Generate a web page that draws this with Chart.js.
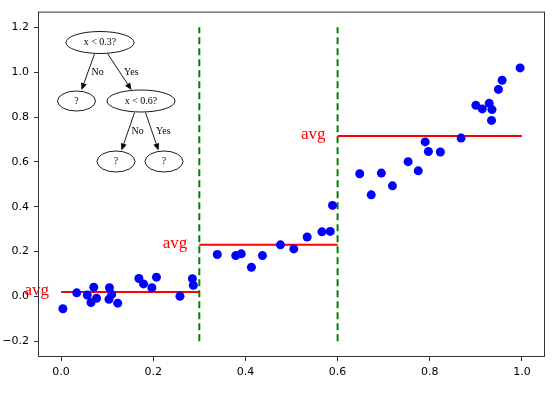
<!DOCTYPE html>
<html>
<head>
<meta charset="utf-8">
<script src="https://cdn.jsdelivr.net/npm/chart.js@4/dist/chart.umd.min.js"></script>
<style>
  body { margin: 0; background: #fff; }
</style>
</head>
<body>
<canvas id="chart" width="555" height="393"></canvas>
<script>
// points, one group per region
const seg1X = [0.004, 0.034, 0.057, 0.071, 0.077, 0.065, 0.105, 0.110, 0.104, 0.123, 0.169, 0.179, 0.197, 0.207, 0.258, 0.285, 0.287];
const seg1Y = [-0.055, 0.016, 0.006, 0.041, -0.008, -0.027, 0.039, 0.009, -0.013, -0.030, 0.080, 0.056, 0.039, 0.086, 0.001, 0.079, 0.050];
const seg2X = [0.339, 0.379, 0.391, 0.413, 0.437, 0.476, 0.505, 0.534, 0.566, 0.584, 0.589];
const seg2Y = [0.187, 0.182, 0.190, 0.130, 0.182, 0.230, 0.212, 0.265, 0.288, 0.290, 0.406];
const seg3X = [0.648, 0.673, 0.695, 0.719, 0.753, 0.775, 0.790, 0.797, 0.823, 0.868, 0.900, 0.914, 0.929, 0.935, 0.934, 0.949, 0.957, 0.996];
const seg3Y = [0.547, 0.453, 0.550, 0.493, 0.601, 0.560, 0.689, 0.646, 0.644, 0.706, 0.852, 0.836, 0.861, 0.833, 0.785, 0.923, 0.964, 1.019];

// averages per region
const segStart = [0.0, 0.3, 0.6];
const segEnd = [0.3, 0.6, 1.0];
const segAvg = [0.02, 0.23, 0.715];

// split lines
const splitX = [0.3, 0.6];
const splitY = [-0.2, 1.2];

const xTicks = [0.0, 0.2, 0.4, 0.6, 0.8, 1.0];
const yTicks = [-0.2, 0.0, 0.2, 0.4, 0.6, 0.8, 1.0, 1.2];

const toPts = (xs, ys) => xs.map((x, i) => ({ x: x, y: ys[i] }));
const allPts = toPts(seg1X, seg1Y).concat(toPts(seg2X, seg2Y), toPts(seg3X, seg3Y));

const datasets = [{
    label: 'data',
    data: allPts,
    pointRadius: 4.5,
    pointHoverRadius: 4.5,
    backgroundColor: '#0000ff',
    borderWidth: 0
}];
segAvg.forEach((a, i) => {
    datasets.push({
        label: 'avg' + i,
        data: [{ x: segStart[i], y: a }, { x: segEnd[i], y: a }],
        showLine: true,
        pointRadius: 0,
        borderColor: '#ff0000',
        borderWidth: 2
    });
});
splitX.forEach((s, i) => {
    datasets.push({
        label: 'split' + i,
        data: [{ x: s, y: splitY[0] }, { x: s, y: splitY[1] }],
        showLine: true,
        pointRadius: 0,
        borderColor: '#008000',
        borderWidth: 2,
        borderDash: [7, 4]
    });
});

const fmt = v => v.toFixed(1).replace('-', '\u2212');

// "avg" labels left of each red line
const avgLabels = {
    id: 'avgLabels',
    afterDatasetsDraw(chart) {
        const ctx = chart.ctx, xs = chart.scales.x, ys = chart.scales.y;
        ctx.save();
        ctx.fillStyle = '#ff0000';
        ctx.font = '17px "Liberation Serif", serif';
        ctx.textAlign = 'right';
        ctx.textBaseline = 'alphabetic';
        segAvg.forEach((a, i) => {
            ctx.fillText('avg', xs.getPixelForValue(segStart[i]) - 12, ys.getPixelForValue(a) + 3);
        });
        ctx.restore();
    }
};

// frame + decision tree inset
const frameAndTree = {
    id: 'frameAndTree',
    afterDraw(chart) {
        const ctx = chart.ctx, a = chart.chartArea;
        ctx.save();
        ctx.strokeStyle = '#333';
        ctx.lineWidth = 1;
        ctx.strokeRect(a.left + 0.5, a.top + 0.5, a.right - a.left - 1, a.bottom - a.top - 1);

        const nodes = [
            { x: 100, y: 42.5, rx: 34, ry: 11, t: 'x < 0.3?' },
            { x: 76.5, y: 101, rx: 19, ry: 10, t: '?' },
            { x: 141, y: 101, rx: 34, ry: 11, t: 'x < 0.6?' },
            { x: 116, y: 161.5, rx: 19, ry: 10.5, t: '?' },
            { x: 164, y: 161.5, rx: 19, ry: 10.5, t: '?' }
        ];
        const edges = [
            { x1: 94.5, y1: 54, x2: 81.5, y2: 90, t: 'No', tx: 91.5, ty: 72 },
            { x1: 107.5, y1: 53.5, x2: 131.5, y2: 90, t: 'Yes', tx: 124, ty: 72 },
            { x1: 134.5, y1: 112.5, x2: 121.5, y2: 150.5, t: 'No', tx: 131.5, ty: 131 },
            { x1: 145.5, y1: 112.5, x2: 158.5, y2: 150.5, t: 'Yes', tx: 156, ty: 131 }
        ];
        ctx.strokeStyle = '#000';
        ctx.fillStyle = '#000';
        ctx.lineWidth = 0.9;
        ctx.font = '10px "Liberation Serif", serif';
        ctx.textBaseline = 'middle';
        nodes.forEach(n => {
            ctx.beginPath();
            ctx.ellipse(n.x, n.y, n.rx, n.ry, 0, 0, Math.PI * 2);
            ctx.stroke();
            ctx.textAlign = 'center';
            ctx.fillText(n.t, n.x, n.y);
        });
        edges.forEach(e => {
            const ang = Math.atan2(e.y2 - e.y1, e.x2 - e.x1);
            const hl = 7, hw = 3;
            const bx = e.x2 - hl * Math.cos(ang), by = e.y2 - hl * Math.sin(ang);
            ctx.beginPath();
            ctx.moveTo(e.x1, e.y1);
            ctx.lineTo(bx, by);
            ctx.stroke();
            ctx.beginPath();
            ctx.moveTo(e.x2, e.y2);
            ctx.lineTo(bx + hw * Math.sin(ang), by - hw * Math.cos(ang));
            ctx.lineTo(bx - hw * Math.sin(ang), by + hw * Math.cos(ang));
            ctx.closePath();
            ctx.fill();
            ctx.textAlign = 'left';
            ctx.fillText(e.t, e.tx, e.ty);
        });
        ctx.restore();
    }
};

Chart.defaults.font.family = '"DejaVu Sans", sans-serif';
Chart.defaults.color = '#000';

new Chart(document.getElementById('chart'), {
    type: 'scatter',
    data: { datasets: datasets },
    options: {
        responsive: false,
        animation: false,
        events: [],
        layout: { padding: { top: 10, right: 10, left: 0, bottom: 0 } },
        plugins: { legend: { display: false }, tooltip: { enabled: false } },
        scales: {
            x: {
                min: -0.05, max: 1.05,
                afterBuildTicks: s => { s.ticks = xTicks.map(v => ({ value: v })); },
                afterFit: s => { s.height = 36; },
                ticks: { callback: v => fmt(v), font: { size: 11 }, padding: 5, maxRotation: 0 },
                grid: { drawOnChartArea: false, drawTicks: true, tickLength: 4, tickColor: '#333' },
                border: { display: false }
            },
            y: {
                min: -0.27, max: 1.27,
                afterBuildTicks: s => { s.ticks = yTicks.map(v => ({ value: v })); },
                afterFit: s => { s.width = 38; },
                ticks: { callback: v => fmt(v), font: { size: 11 }, padding: 5 },
                grid: { drawOnChartArea: false, drawTicks: true, tickLength: 4, tickColor: '#333' },
                border: { display: false }
            }
        }
    },
    plugins: [avgLabels, frameAndTree]
});
</script>
</body>
</html>
